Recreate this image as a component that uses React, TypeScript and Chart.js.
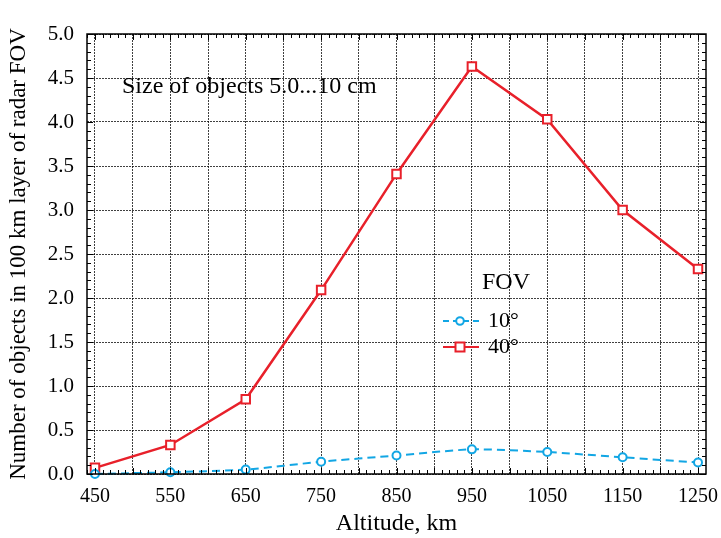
import React, { useEffect, useRef } from 'react';
import { Chart, registerables } from 'chart.js';

Chart.register(...registerables);

const altitudes = [450, 550, 650, 750, 850, 950, 1050, 1150, 1250];
const fov10 = [0.0, 0.02, 0.05, 0.14, 0.21, 0.28, 0.25, 0.19, 0.13];
const fov40 = [0.07, 0.33, 0.85, 2.09, 3.41, 4.63, 4.03, 3.0, 2.33];
const xGridValues = [450, 500, 550, 600, 650, 700, 750, 800, 850, 900, 950, 1000, 1050, 1100, 1150, 1200, 1250];
const xLabelValues = [450, 550, 650, 750, 850, 950, 1050, 1150, 1250];
const seriesLabels = ['10°', '40°'];
const legendTitle = 'FOV';
const noteText = 'Size of objects 5.0...10 cm';
const xTitle = 'Altitude, km';
const yTitle = 'Number of objects in 100 km layer of radar FOV';

const BLUE = '#12a6e4';
const RED = '#e8202a';
const FONT = "'Liberation Serif', 'DejaVu Serif', serif";

const framePlugin = {
  id: 'framePlugin',
  afterDraw(chart: any) {
    const { ctx, chartArea } = chart;
    const { left, right, top, bottom } = chartArea;
    const xs = chart.scales.x;
    const ys = chart.scales.y;
    ctx.save();
    ctx.strokeStyle = '#000';
    ctx.lineWidth = 1.5;
    ctx.setLineDash([]);
    ctx.strokeRect(left, top, right - left, bottom - top);
    ctx.lineWidth = 1;
    ctx.beginPath();
    for (let v = 440; v <= 1260; v += 10) {
      const px = Math.round(xs.getPixelForValue(v)) + 0.5;
      if (px < left || px > right) continue;
      const len = v % 50 === 0 ? 6 : 4;
      ctx.moveTo(px, bottom);
      ctx.lineTo(px, bottom - len);
      ctx.moveTo(px, top);
      ctx.lineTo(px, top + len);
    }
    for (let i = 0; i <= 50; i++) {
      const v = i / 10;
      const py = Math.round(ys.getPixelForValue(v)) + 0.5;
      const len = i % 5 === 0 ? 6 : 4;
      ctx.moveTo(left, py);
      ctx.lineTo(left + len, py);
      ctx.moveTo(right, py);
      ctx.lineTo(right - len, py);
    }
    ctx.stroke();

    ctx.fillStyle = '#000';
    ctx.font = `24px ${FONT}`;
    ctx.textAlign = 'left';
    ctx.textBaseline = 'middle';
    ctx.fillText(noteText, 122, 87);

    ctx.font = `24px ${FONT}`;
    ctx.fillText(legendTitle, 482, 283);
    ctx.font = `22px ${FONT}`;
    const items = [
      { y: 321, color: BLUE, dash: [6, 4], shape: 'circle', label: seriesLabels[0] },
      { y: 347, color: RED, dash: [], shape: 'square', label: seriesLabels[1] },
    ];
    for (const it of items) {
      ctx.strokeStyle = it.color;
      ctx.lineWidth = 2;
      ctx.setLineDash(it.dash);
      ctx.beginPath();
      ctx.moveTo(443, it.y);
      ctx.lineTo(479, it.y);
      ctx.stroke();
      ctx.setLineDash([]);
      ctx.fillStyle = '#fff';
      ctx.beginPath();
      if (it.shape === 'circle') {
        ctx.arc(460, it.y, 3.8, 0, Math.PI * 2);
      } else {
        ctx.rect(455.5, it.y - 4.5, 9, 9);
      }
      ctx.fill();
      ctx.stroke();
      ctx.fillStyle = '#000';
      ctx.fillText(it.label, 488, it.y);
    }
    ctx.restore();
  },
};

export default function App() {
  const canvasRef = useRef<HTMLCanvasElement | null>(null);

  useEffect(() => {
    if (!canvasRef.current) return;
    const chart = new Chart(canvasRef.current, {
      type: 'line',
      data: {
        datasets: [
          {
            label: seriesLabels[0],
            data: altitudes.map((a, i) => ({ x: a, y: fov10[i] })),
            borderColor: BLUE,
            backgroundColor: '#fff',
            borderWidth: 2,
            borderDash: [8, 5],
            pointStyle: 'circle',
            pointRadius: 4,
            pointBorderWidth: 2,
            pointBorderColor: BLUE,
            pointBackgroundColor: '#fff',
            tension: 0.2,
            clip: false,
          },
          {
            label: seriesLabels[1],
            data: altitudes.map((a, i) => ({ x: a, y: fov40[i] })),
            borderColor: RED,
            backgroundColor: '#fff',
            borderWidth: 2.5,
            pointStyle: 'rect',
            pointRadius: 6,
            pointBorderWidth: 2,
            pointBorderColor: RED,
            pointBackgroundColor: '#fff',
            tension: 0,
            clip: false,
          },
        ],
      },
      options: {
        animation: false,
        responsive: false,
        maintainAspectRatio: false,
        layout: { padding: { top: 34, right: 15, left: 0, bottom: 0 } },
        plugins: {
          legend: { display: false },
          tooltip: { enabled: false },
        },
        scales: {
          x: {
            type: 'linear',
            min: 439.4,
            max: 1260.6,
            afterBuildTicks: (scale: any) => {
              scale.ticks = xGridValues.map((v) => ({ value: v }));
            },
            afterFit: (scale: any) => {
              scale.height = 64;
              scale.paddingLeft = 0;
              scale.paddingRight = 0;
            },
            ticks: {
              autoSkip: false,
              maxRotation: 0,
              padding: 11,
              color: '#000',
              font: { family: FONT, size: 20 },
              callback: (v: any) => (xLabelValues.includes(Number(v)) ? String(v) : ''),
            },
            grid: { color: 'rgba(0,0,0,0.75)', lineWidth: 1, drawTicks: false },
            border: { display: false, dash: [2, 1] },
            title: {
              display: true,
              text: xTitle,
              color: '#000',
              font: { family: FONT, size: 24 },
              padding: { top: 0, bottom: 0 },
            },
          },
          y: {
            min: 0,
            max: 5,
            afterFit: (scale: any) => {
              scale.width = 87;
              scale.paddingTop = 0;
              scale.paddingBottom = 0;
            },
            ticks: {
              stepSize: 0.5,
              padding: 13,
              color: '#000',
              font: { family: FONT, size: 21 },
              callback: (v: any) => Number(v).toFixed(1),
            },
            grid: { color: 'rgba(0,0,0,0.75)', lineWidth: 1, drawTicks: false },
            border: { display: false, dash: [2, 1] },
            title: {
              display: true,
              text: yTitle,
              color: '#000',
              font: { family: FONT, size: 23 },
              padding: { top: 5, bottom: 0 },
            },
          },
        },
      },
      plugins: [framePlugin],
    } as any);
    return () => chart.destroy();
  }, []);

  return (
    <div style={{ position: 'fixed', left: 0, top: 0, width: 721, height: 538, background: '#fff' }}>
      <canvas ref={canvasRef} width={721} height={538} style={{ display: 'block' }} />
    </div>
  );
}
